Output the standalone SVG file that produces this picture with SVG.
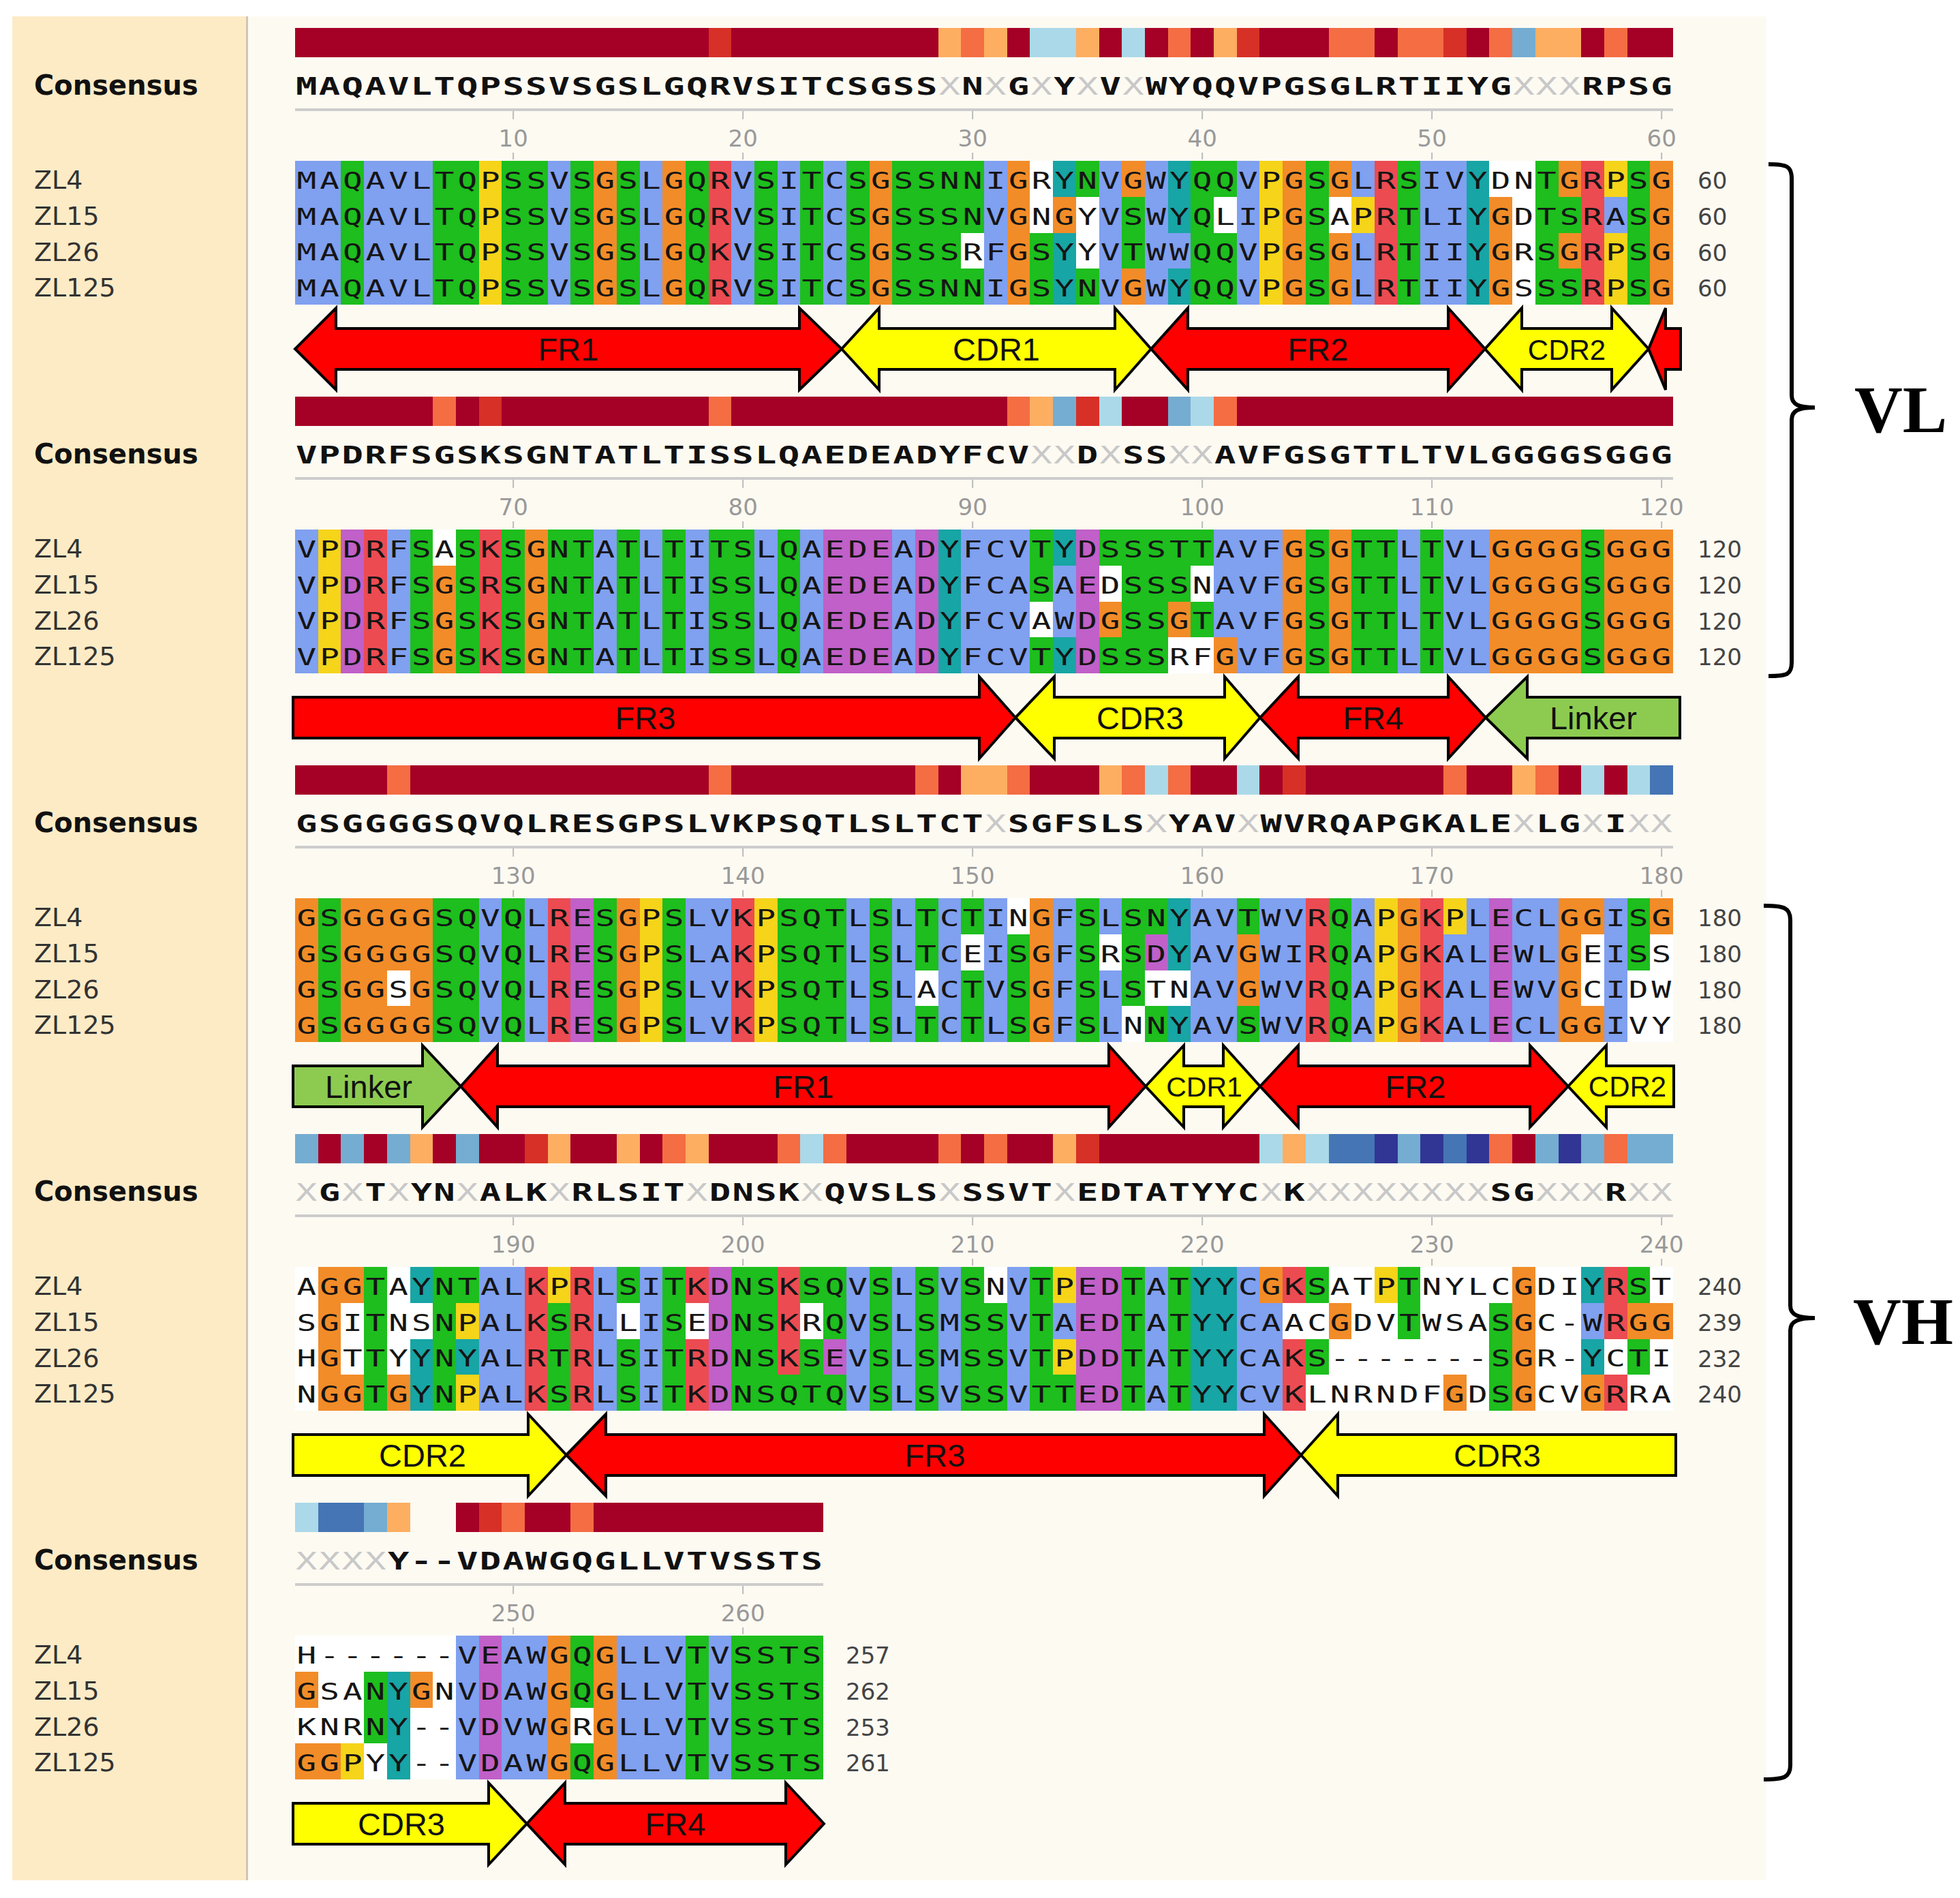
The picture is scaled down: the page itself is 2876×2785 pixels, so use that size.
<svg xmlns="http://www.w3.org/2000/svg" width="2876" height="2785" viewBox="0 0 2876 2785">
<style>
.b{fill:#80A0F0}.g{fill:#1DBE1D}.o{fill:#F28C28}.r{fill:#EC4B52}.m{fill:#C060C8}.c{fill:#17A5A5}.y{fill:#F5D41A}.w{fill:#FFFFFF}
.k1{fill:#A50026}.k2{fill:#D73027}.k3{fill:#F46D43}.k4{fill:#FDAE61}.k5{fill:#ABD9E9}.k6{fill:#74ADD1}.k7{fill:#4575B4}.k8{fill:#313695}
.s{font-family:"DejaVu Sans Mono",monospace;font-size:34px;letter-spacing:3.6px;fill:#151515}
.cs{font-family:"DejaVu Sans Mono",monospace;font-weight:bold;font-size:36px;letter-spacing:1.57px;fill:#111}
.xx{fill:#C8C8C8;font-weight:normal}
.lb{font-family:"DejaVu Sans",sans-serif;font-size:38px;fill:#333}
.cl{font-family:"DejaVu Sans",sans-serif;font-weight:bold;font-size:40px;fill:#111}
.rn{font-family:"DejaVu Sans",sans-serif;font-size:34px;fill:#444}
.rl{font-family:"DejaVu Sans",sans-serif;font-size:34px;fill:#999;text-anchor:middle}
.al{font-family:"Liberation Sans",Arial,sans-serif;font-size:47px;fill:#111;text-anchor:middle}
.ar,.ay,.ag{stroke:#000;stroke-width:4;stroke-linejoin:miter}
.ar{fill:#FF0000}.ay{fill:#FFFF00}.ag{fill:#8CCB50}
.rule{stroke:#CCCCCC;stroke-width:4;fill:none}
.tick{stroke:#BBBBBB;stroke-width:2;fill:none}
.brace{stroke:#000;stroke-width:6;fill:none}
.vt{font-family:"Liberation Serif","Times New Roman",serif;font-weight:bold;font-size:98px;fill:#000}
</style>
<rect width="2876" height="2785" fill="#FFFFFF"/>
<rect x="18" y="24" width="2574" height="2735" fill="#FDFAF2"/>
<rect x="18" y="24" width="344" height="2735" fill="#FDEBC6"/>
<rect x="361" y="24" width="3" height="2735" fill="#CFC6B4"/>

<g id="block1">
<g shape-rendering="crispEdges" transform="translate(433,41) scale(33.7,43)">
<rect class="k1" width="60" height="1"/>
<rect class="k2" x="18" width="1" height="1"/><rect class="k2" x="41" width="1" height="1"/><rect class="k2" x="50" width="1" height="1"/>
<rect class="k4" x="28" width="1" height="1"/><rect class="k4" x="30" width="1" height="1"/><rect class="k4" x="34" width="1" height="1"/><rect class="k4" x="40" width="1" height="1"/><rect class="k4" x="54" width="2" height="1"/>
<rect class="k3" x="29" width="1" height="1"/><rect class="k3" x="38" width="1" height="1"/><rect class="k3" x="45" width="2" height="1"/><rect class="k3" x="48" width="2" height="1"/><rect class="k3" x="52" width="1" height="1"/><rect class="k3" x="57" width="1" height="1"/>
<rect class="k5" x="32" width="2" height="1"/><rect class="k5" x="36" width="1" height="1"/>
<rect class="k6" x="53" width="1" height="1"/>
</g>
<text class="cl" x="50" y="139">Consensus</text>
<g transform="scale(1.45,1)"><text class="cs" x="299.4" y="139">MAQAVLTQPSSVSGSLGQRVSITCSGSS<tspan class="xx">X</tspan>N<tspan class="xx">X</tspan>G<tspan class="xx">X</tspan>Y<tspan class="xx">X</tspan>V<tspan class="xx">X</tspan>WYQQVPGSGLRTIIYG<tspan class="xx">XXX</tspan>RPSG</text></g>
<line class="rule" x1="433" y1="161" x2="2455" y2="161"/>
<path class="tick" d="M753.15,163v12M1090.15,163v12M1427.15,163v12M1764.15,163v12M2101.15,163v12M2438.15,163v12M753.15,224v10M1090.15,224v10M1427.15,224v10M1764.15,224v10M2101.15,224v10M2438.15,224v10"/>
<text class="rl" x="753.15" y="215">10</text><text class="rl" x="1090.15" y="215">20</text><text class="rl" x="1427.15" y="215">30</text><text class="rl" x="1764.15" y="215">40</text><text class="rl" x="2101.15" y="215">50</text><text class="rl" x="2438.15" y="215">60</text>
<g shape-rendering="crispEdges" transform="translate(433,236) scale(33.7,52.75)">
<rect class="w" width="60" height="4"/>
<rect class="b" x="0" width="2" height="4"/><rect class="g" x="2" width="1" height="4"/><rect class="b" x="3" width="3" height="4"/><rect class="g" x="6" width="2" height="4"/><rect class="y" x="8" width="1" height="4"/><rect class="g" x="9" width="2" height="4"/><rect class="b" x="11" width="1" height="4"/><rect class="g" x="12" width="1" height="4"/><rect class="o" x="13" width="1" height="4"/><rect class="g" x="14" width="1" height="4"/><rect class="b" x="15" width="1" height="4"/><rect class="o" x="16" width="1" height="4"/><rect class="g" x="17" width="1" height="4"/><rect class="r" x="18" width="1" height="4"/><rect class="b" x="19" width="1" height="4"/><rect class="g" x="20" width="1" height="4"/><rect class="b" x="21" width="1" height="4"/><rect class="g" x="22" width="1" height="4"/><rect class="b" x="23" width="1" height="4"/><rect class="g" x="24" width="1" height="4"/><rect class="o" x="25" width="1" height="4"/><rect class="g" x="26" width="4" height="4"/><rect class="b" x="30" width="1" height="4"/><rect class="o" x="31" width="1" height="4"/><rect class="g" x="32" width="1" height="4"/><rect class="c" x="33" width="1" height="4"/><rect class="g" x="34" width="1" height="4"/><rect class="b" x="35" width="1" height="4"/><rect class="o" x="36" width="1" height="4"/><rect class="b" x="37" width="1" height="4"/><rect class="c" x="38" width="1" height="4"/><rect class="g" x="39" width="2" height="4"/><rect class="b" x="41" width="1" height="4"/><rect class="y" x="42" width="1" height="4"/><rect class="o" x="43" width="1" height="4"/><rect class="g" x="44" width="1" height="4"/><rect class="o" x="45" width="1" height="4"/><rect class="b" x="46" width="1" height="4"/><rect class="r" x="47" width="1" height="4"/><rect class="g" x="48" width="1" height="4"/><rect class="b" x="49" width="2" height="4"/><rect class="c" x="51" width="1" height="4"/><rect class="o" x="52" width="1" height="4"/><rect class="g" x="54" width="1" height="4"/><rect class="o" x="55" width="1" height="4"/><rect class="r" x="56" width="1" height="4"/><rect class="y" x="57" width="1" height="4"/><rect class="g" x="58" width="1" height="4"/><rect class="o" x="59" width="1" height="4"/>
<rect class="w" x="29" y="2" width="1" height="1"/><rect class="w" x="32" y="0" width="1" height="2"/><rect class="o" x="33" y="1" width="1" height="1"/><rect class="w" x="34" y="1" width="1" height="2"/><rect class="g" x="36" y="1" width="1" height="2"/><rect class="b" x="38" y="2" width="1" height="1"/><rect class="w" x="40" y="1" width="1" height="1"/><rect class="w" x="45" y="1" width="1" height="1"/><rect class="y" x="46" y="1" width="1" height="1"/><rect class="w" x="52" y="0" width="1" height="1"/><rect class="g" x="55" y="1" width="1" height="1"/><rect class="g" x="55" y="3" width="1" height="1"/><rect class="b" x="57" y="1" width="1" height="1"/>
</g>
<text class="lb" x="50" y="277">ZL4</text><text class="lb" x="50" y="329.75">ZL15</text><text class="lb" x="50" y="382.5">ZL26</text><text class="lb" x="50" y="435.25">ZL125</text>
<g transform="scale(1.4,1)">
<text class="s" x="311.1" y="277">MAQAVLTQPSSVSGSLGQRVSITCSGSSNNIGRYNVGWYQQVPGSGLRSIVYDNTGRPSG</text>
<text class="s" x="311.1" y="329.75">MAQAVLTQPSSVSGSLGQRVSITCSGSSSNVGNGYVSWYQLIPGSAPRTLIYGDTSRASG</text>
<text class="s" x="311.1" y="382.5">MAQAVLTQPSSVSGSLGQKVSITCSGSSSRFGSYYVTWWQQVPGSGLRTIIYGRSGRPSG</text>
<text class="s" x="311.1" y="435.25">MAQAVLTQPSSVSGSLGQRVSITCSGSSNNIGSYNVGWYQQVPGSGLRTIIYGSSSRPSG</text>
</g>
<text class="rn" x="2491" y="277">60</text><text class="rn" x="2491" y="329.75">60</text><text class="rn" x="2491" y="382.5">60</text><text class="rn" x="2491" y="435.25">60</text>
</g>

<g id="block2" transform="translate(0,541)">
<g shape-rendering="crispEdges" transform="translate(433,41) scale(33.7,43)">
<rect class="k1" width="60" height="1"/>
<rect class="k3" x="6" width="1" height="1"/><rect class="k2" x="8" width="1" height="1"/><rect class="k3" x="18" width="1" height="1"/><rect class="k3" x="31" width="1" height="1"/><rect class="k4" x="32" width="1" height="1"/><rect class="k6" x="33" width="1" height="1"/><rect class="k2" x="34" width="1" height="1"/><rect class="k5" x="35" width="1" height="1"/><rect class="k6" x="38" width="1" height="1"/><rect class="k5" x="39" width="1" height="1"/><rect class="k3" x="40" width="1" height="1"/>
</g>
<text class="cl" x="50" y="139">Consensus</text>
<g transform="scale(1.45,1)"><text class="cs" x="299.4" y="139">VPDRFSGSKSGNTATLTISSLQAEDEADYFCV<tspan class="xx">XX</tspan>D<tspan class="xx">X</tspan>SS<tspan class="xx">XX</tspan>AVFGSGTTLTVLGGGGSGGG</text></g>
<line class="rule" x1="433" y1="161" x2="2455" y2="161"/>
<path class="tick" d="M753.15,163v12M1090.15,163v12M1427.15,163v12M1764.15,163v12M2101.15,163v12M2438.15,163v12M753.15,224v10M1090.15,224v10M1427.15,224v10M1764.15,224v10M2101.15,224v10M2438.15,224v10"/>
<text class="rl" x="753.15" y="215">70</text><text class="rl" x="1090.15" y="215">80</text><text class="rl" x="1427.15" y="215">90</text><text class="rl" x="1764.15" y="215">100</text><text class="rl" x="2101.15" y="215">110</text><text class="rl" x="2438.15" y="215">120</text>
<g shape-rendering="crispEdges" transform="translate(433,236) scale(33.7,52.75)">
<rect class="w" width="60" height="4"/>
<rect class="b" x="0" width="1" height="4"/><rect class="y" x="1" width="1" height="4"/><rect class="m" x="2" width="1" height="4"/><rect class="r" x="3" width="1" height="4"/><rect class="b" x="4" width="1" height="4"/><rect class="g" x="5" width="1" height="4"/><rect class="o" x="6" width="1" height="4"/><rect class="g" x="7" width="1" height="4"/><rect class="r" x="8" width="1" height="4"/><rect class="g" x="9" width="1" height="4"/><rect class="o" x="10" width="1" height="4"/><rect class="g" x="11" width="2" height="4"/><rect class="b" x="13" width="1" height="4"/><rect class="g" x="14" width="1" height="4"/><rect class="b" x="15" width="1" height="4"/><rect class="g" x="16" width="1" height="4"/><rect class="b" x="17" width="1" height="4"/><rect class="g" x="18" width="2" height="4"/><rect class="b" x="20" width="1" height="4"/><rect class="g" x="21" width="1" height="4"/><rect class="b" x="22" width="1" height="4"/><rect class="m" x="23" width="3" height="4"/><rect class="b" x="26" width="1" height="4"/><rect class="m" x="27" width="1" height="4"/><rect class="c" x="28" width="1" height="4"/><rect class="b" x="29" width="3" height="4"/><rect class="g" x="32" width="1" height="4"/><rect class="c" x="33" width="1" height="4"/><rect class="m" x="34" width="1" height="4"/><rect class="g" x="35" width="5" height="4"/><rect class="b" x="40" width="3" height="4"/><rect class="o" x="43" width="1" height="4"/><rect class="g" x="44" width="1" height="4"/><rect class="o" x="45" width="1" height="4"/><rect class="g" x="46" width="2" height="4"/><rect class="b" x="48" width="1" height="4"/><rect class="g" x="49" width="1" height="4"/><rect class="b" x="50" width="2" height="4"/><rect class="o" x="52" width="4" height="4"/><rect class="g" x="56" width="1" height="4"/><rect class="o" x="57" width="3" height="4"/>
<rect class="w" x="6" y="0" width="1" height="1"/><rect class="w" x="32" y="2" width="1" height="1"/><rect class="b" x="33" y="1" width="1" height="2"/><rect class="w" x="35" y="1" width="1" height="1"/><rect class="o" x="35" y="2" width="1" height="1"/><rect class="o" x="38" y="2" width="1" height="1"/><rect class="w" x="38" y="3" width="1" height="1"/><rect class="w" x="39" y="1" width="1" height="1"/><rect class="w" x="39" y="3" width="1" height="1"/><rect class="o" x="40" y="3" width="1" height="1"/>
</g>
<text class="lb" x="50" y="277">ZL4</text><text class="lb" x="50" y="329.75">ZL15</text><text class="lb" x="50" y="382.5">ZL26</text><text class="lb" x="50" y="435.25">ZL125</text>
<g transform="scale(1.4,1)">
<text class="s" x="311.1" y="277">VPDRFSASKSGNTATLTITSLQAEDEADYFCVTYDSSSTTAVFGSGTTLTVLGGGGSGGG</text>
<text class="s" x="311.1" y="329.75">VPDRFSGSRSGNTATLTISSLQAEDEADYFCASAEDSSSNAVFGSGTTLTVLGGGGSGGG</text>
<text class="s" x="311.1" y="382.5">VPDRFSGSKSGNTATLTISSLQAEDEADYFCVAWDGSSGTAVFGSGTTLTVLGGGGSGGG</text>
<text class="s" x="311.1" y="435.25">VPDRFSGSKSGNTATLTISSLQAEDEADYFCVTYDSSSRFGVFGSGTTLTVLGGGGSGGG</text>
</g>
<text class="rn" x="2491" y="277">120</text><text class="rn" x="2491" y="329.75">120</text><text class="rn" x="2491" y="382.5">120</text><text class="rn" x="2491" y="435.25">120</text>
</g>

<g id="block3" transform="translate(0,1082)">
<g shape-rendering="crispEdges" transform="translate(433,41) scale(33.7,43)">
<rect class="k1" width="60" height="1"/>
<rect class="k3" x="4" width="1" height="1"/><rect class="k3" x="18" width="1" height="1"/><rect class="k3" x="27" width="1" height="1"/><rect class="k4" x="29" width="2" height="1"/><rect class="k3" x="31" width="1" height="1"/><rect class="k4" x="35" width="1" height="1"/><rect class="k3" x="36" width="1" height="1"/><rect class="k5" x="37" width="1" height="1"/><rect class="k3" x="38" width="1" height="1"/><rect class="k5" x="41" width="1" height="1"/><rect class="k2" x="43" width="1" height="1"/><rect class="k3" x="50" width="1" height="1"/><rect class="k4" x="53" width="1" height="1"/><rect class="k3" x="54" width="1" height="1"/><rect class="k5" x="56" width="1" height="1"/><rect class="k5" x="58" width="1" height="1"/><rect class="k7" x="59" width="1" height="1"/>
</g>
<text class="cl" x="50" y="139">Consensus</text>
<g transform="scale(1.45,1)"><text class="cs" x="299.4" y="139">GSGGGGSQVQLRESGPSLVKPSQTLSLTCT<tspan class="xx">X</tspan>SGFSLS<tspan class="xx">X</tspan>YAV<tspan class="xx">X</tspan>WVRQAPGKALE<tspan class="xx">X</tspan>LG<tspan class="xx">X</tspan>I<tspan class="xx">XX</tspan></text></g>
<line class="rule" x1="433" y1="161" x2="2455" y2="161"/>
<path class="tick" d="M753.15,163v12M1090.15,163v12M1427.15,163v12M1764.15,163v12M2101.15,163v12M2438.15,163v12M753.15,224v10M1090.15,224v10M1427.15,224v10M1764.15,224v10M2101.15,224v10M2438.15,224v10"/>
<text class="rl" x="753.15" y="215">130</text><text class="rl" x="1090.15" y="215">140</text><text class="rl" x="1427.15" y="215">150</text><text class="rl" x="1764.15" y="215">160</text><text class="rl" x="2101.15" y="215">170</text><text class="rl" x="2438.15" y="215">180</text>
<g shape-rendering="crispEdges" transform="translate(433,236) scale(33.7,52.75)">
<rect class="w" width="60" height="4"/>
<rect class="o" x="0" width="1" height="4"/><rect class="g" x="1" width="1" height="4"/><rect class="o" x="2" width="4" height="4"/><rect class="g" x="6" width="2" height="4"/><rect class="b" x="8" width="1" height="4"/><rect class="g" x="9" width="1" height="4"/><rect class="b" x="10" width="1" height="4"/><rect class="r" x="11" width="1" height="4"/><rect class="m" x="12" width="1" height="4"/><rect class="g" x="13" width="1" height="4"/><rect class="o" x="14" width="1" height="4"/><rect class="y" x="15" width="1" height="4"/><rect class="g" x="16" width="1" height="4"/><rect class="b" x="17" width="2" height="4"/><rect class="r" x="19" width="1" height="4"/><rect class="y" x="20" width="1" height="4"/><rect class="g" x="21" width="3" height="4"/><rect class="b" x="24" width="1" height="4"/><rect class="g" x="25" width="1" height="4"/><rect class="b" x="26" width="1" height="4"/><rect class="g" x="27" width="1" height="4"/><rect class="b" x="28" width="1" height="4"/><rect class="g" x="29" width="1" height="4"/><rect class="b" x="30" width="1" height="4"/><rect class="g" x="31" width="1" height="4"/><rect class="o" x="32" width="1" height="4"/><rect class="b" x="33" width="1" height="4"/><rect class="g" x="34" width="1" height="4"/><rect class="b" x="35" width="1" height="4"/><rect class="g" x="36" width="2" height="4"/><rect class="c" x="38" width="1" height="4"/><rect class="b" x="39" width="2" height="4"/><rect class="g" x="41" width="1" height="4"/><rect class="b" x="42" width="2" height="4"/><rect class="r" x="44" width="1" height="4"/><rect class="g" x="45" width="1" height="4"/><rect class="b" x="46" width="1" height="4"/><rect class="y" x="47" width="1" height="4"/><rect class="o" x="48" width="1" height="4"/><rect class="r" x="49" width="1" height="4"/><rect class="b" x="50" width="2" height="4"/><rect class="m" x="52" width="1" height="4"/><rect class="b" x="53" width="2" height="4"/><rect class="o" x="55" width="2" height="4"/><rect class="b" x="57" width="1" height="4"/><rect class="g" x="58" width="1" height="4"/>
<rect class="w" x="4" y="2" width="1" height="1"/><rect class="w" x="27" y="2" width="1" height="1"/><rect class="w" x="29" y="1" width="1" height="1"/><rect class="w" x="31" y="0" width="1" height="1"/><rect class="w" x="35" y="1" width="1" height="1"/><rect class="w" x="36" y="3" width="1" height="1"/><rect class="m" x="37" y="1" width="1" height="1"/><rect class="w" x="37" y="2" width="1" height="1"/><rect class="w" x="38" y="2" width="1" height="1"/><rect class="o" x="41" y="1" width="1" height="2"/><rect class="y" x="50" y="0" width="1" height="1"/><rect class="w" x="56" y="1" width="1" height="2"/><rect class="w" x="58" y="2" width="1" height="2"/><rect class="o" x="59" y="0" width="1" height="1"/>
</g>
<text class="lb" x="50" y="277">ZL4</text><text class="lb" x="50" y="329.75">ZL15</text><text class="lb" x="50" y="382.5">ZL26</text><text class="lb" x="50" y="435.25">ZL125</text>
<g transform="scale(1.4,1)">
<text class="s" x="311.1" y="277">GSGGGGSQVQLRESGPSLVKPSQTLSLTCTINGFSLSNYAVTWVRQAPGKPLECLGGISG</text>
<text class="s" x="311.1" y="329.75">GSGGGGSQVQLRESGPSLAKPSQTLSLTCEISGFSRSDYAVGWIRQAPGKALEWLGEISS</text>
<text class="s" x="311.1" y="382.5">GSGGSGSQVQLRESGPSLVKPSQTLSLACTVSGFSLSTNAVGWVRQAPGKALEWVGCIDW</text>
<text class="s" x="311.1" y="435.25">GSGGGGSQVQLRESGPSLVKPSQTLSLTCTLSGFSLNNYAVSWVRQAPGKALECLGGIVY</text>
</g>
<text class="rn" x="2491" y="277">180</text><text class="rn" x="2491" y="329.75">180</text><text class="rn" x="2491" y="382.5">180</text><text class="rn" x="2491" y="435.25">180</text>
</g>

<g id="block4" transform="translate(0,1623)">
<g shape-rendering="crispEdges" transform="translate(433,41) scale(33.7,43)">
<rect class="k1" width="60" height="1"/>
<rect class="k6" x="0" width="1" height="1"/><rect class="k6" x="2" width="1" height="1"/><rect class="k6" x="4" width="1" height="1"/><rect class="k4" x="5" width="1" height="1"/><rect class="k6" x="7" width="1" height="1"/><rect class="k2" x="10" width="1" height="1"/><rect class="k4" x="11" width="1" height="1"/><rect class="k4" x="14" width="1" height="1"/><rect class="k3" x="16" width="1" height="1"/><rect class="k4" x="17" width="1" height="1"/><rect class="k3" x="21" width="1" height="1"/><rect class="k5" x="22" width="1" height="1"/><rect class="k3" x="23" width="1" height="1"/><rect class="k3" x="28" width="1" height="1"/><rect class="k3" x="30" width="1" height="1"/><rect class="k4" x="33" width="1" height="1"/><rect class="k2" x="34" width="1" height="1"/><rect class="k5" x="42" width="1" height="1"/><rect class="k4" x="43" width="1" height="1"/><rect class="k5" x="44" width="1" height="1"/><rect class="k7" x="45" width="2" height="1"/><rect class="k8" x="47" width="1" height="1"/><rect class="k6" x="48" width="1" height="1"/><rect class="k8" x="49" width="1" height="1"/><rect class="k7" x="50" width="1" height="1"/><rect class="k8" x="51" width="1" height="1"/><rect class="k3" x="52" width="1" height="1"/><rect class="k6" x="54" width="1" height="1"/><rect class="k8" x="55" width="1" height="1"/><rect class="k6" x="56" width="1" height="1"/><rect class="k3" x="57" width="1" height="1"/><rect class="k6" x="58" width="2" height="1"/>
</g>
<text class="cl" x="50" y="139">Consensus</text>
<g transform="scale(1.45,1)"><text class="cs" x="299.4" y="139"><tspan class="xx">X</tspan>G<tspan class="xx">X</tspan>T<tspan class="xx">X</tspan>YN<tspan class="xx">X</tspan>ALK<tspan class="xx">X</tspan>RLSIT<tspan class="xx">X</tspan>DNSK<tspan class="xx">X</tspan>QVSLS<tspan class="xx">X</tspan>SSVT<tspan class="xx">X</tspan>EDTATYYC<tspan class="xx">X</tspan>K<tspan class="xx">XXXXXXXX</tspan>SG<tspan class="xx">XXX</tspan>R<tspan class="xx">XX</tspan></text></g>
<line class="rule" x1="433" y1="161" x2="2455" y2="161"/>
<path class="tick" d="M753.15,163v12M1090.15,163v12M1427.15,163v12M1764.15,163v12M2101.15,163v12M2438.15,163v12M753.15,224v10M1090.15,224v10M1427.15,224v10M1764.15,224v10M2101.15,224v10M2438.15,224v10"/>
<text class="rl" x="753.15" y="215">190</text><text class="rl" x="1090.15" y="215">200</text><text class="rl" x="1427.15" y="215">210</text><text class="rl" x="1764.15" y="215">220</text><text class="rl" x="2101.15" y="215">230</text><text class="rl" x="2438.15" y="215">240</text>
<g shape-rendering="crispEdges" transform="translate(433,236) scale(33.7,52.75)">
<rect class="w" width="60" height="4"/>
<rect class="o" x="1" width="2" height="4"/><rect class="g" x="3" width="1" height="4"/><rect class="c" x="5" width="1" height="4"/><rect class="g" x="6" width="1" height="4"/><rect class="y" x="7" width="1" height="4"/><rect class="b" x="8" width="2" height="4"/><rect class="r" x="10" width="1" height="4"/><rect class="g" x="11" width="1" height="4"/><rect class="r" x="12" width="1" height="4"/><rect class="b" x="13" width="1" height="4"/><rect class="g" x="14" width="1" height="4"/><rect class="b" x="15" width="1" height="4"/><rect class="g" x="16" width="1" height="4"/><rect class="r" x="17" width="1" height="4"/><rect class="m" x="18" width="1" height="4"/><rect class="g" x="19" width="2" height="4"/><rect class="r" x="21" width="1" height="4"/><rect class="g" x="22" width="2" height="4"/><rect class="b" x="24" width="1" height="4"/><rect class="g" x="25" width="1" height="4"/><rect class="b" x="26" width="1" height="4"/><rect class="g" x="27" width="1" height="4"/><rect class="b" x="28" width="1" height="4"/><rect class="g" x="29" width="2" height="4"/><rect class="b" x="31" width="1" height="4"/><rect class="g" x="32" width="1" height="4"/><rect class="y" x="33" width="1" height="4"/><rect class="m" x="34" width="2" height="4"/><rect class="g" x="36" width="1" height="4"/><rect class="b" x="37" width="1" height="4"/><rect class="g" x="38" width="1" height="4"/><rect class="c" x="39" width="2" height="4"/><rect class="b" x="41" width="2" height="4"/><rect class="r" x="43" width="1" height="4"/><rect class="g" x="52" width="1" height="4"/><rect class="o" x="53" width="1" height="4"/><rect class="c" x="56" width="1" height="4"/><rect class="r" x="57" width="1" height="4"/><rect class="g" x="58" width="1" height="4"/>
<rect class="w" x="2" y="1" width="1" height="2"/><rect class="o" x="4" y="3" width="1" height="1"/><rect class="w" x="5" y="1" width="1" height="1"/><rect class="g" x="7" y="0" width="1" height="1"/><rect class="c" x="7" y="2" width="1" height="1"/><rect class="y" x="11" y="0" width="1" height="1"/><rect class="w" x="14" y="1" width="1" height="1"/><rect class="w" x="17" y="1" width="1" height="1"/><rect class="g" x="21" y="3" width="1" height="1"/><rect class="w" x="22" y="1" width="1" height="1"/><rect class="m" x="23" y="2" width="1" height="1"/><rect class="w" x="30" y="0" width="1" height="1"/><rect class="b" x="33" y="1" width="1" height="1"/><rect class="g" x="33" y="3" width="1" height="1"/><rect class="o" x="42" y="0" width="1" height="1"/><rect class="w" x="43" y="1" width="1" height="1"/><rect class="g" x="44" y="0" width="1" height="1"/><rect class="g" x="44" y="2" width="1" height="1"/><rect class="o" x="45" y="1" width="1" height="1"/><rect class="y" x="47" y="0" width="1" height="1"/><rect class="g" x="48" y="0" width="1" height="2"/><rect class="o" x="50" y="3" width="1" height="1"/><rect class="w" x="52" y="0" width="1" height="1"/><rect class="b" x="56" y="1" width="1" height="1"/><rect class="o" x="56" y="3" width="1" height="1"/><rect class="w" x="57" y="2" width="1" height="1"/><rect class="o" x="58" y="1" width="1" height="1"/><rect class="w" x="58" y="3" width="1" height="1"/><rect class="o" x="59" y="1" width="1" height="1"/>
</g>
<text class="lb" x="50" y="277">ZL4</text><text class="lb" x="50" y="329.75">ZL15</text><text class="lb" x="50" y="382.5">ZL26</text><text class="lb" x="50" y="435.25">ZL125</text>
<g transform="scale(1.4,1)">
<text class="s" x="311.1" y="277">AGGTAYNTALKPRLSITKDNSKSQVSLSVSNVTPEDTATYYCGKSATPTNYLCGDIYRST</text>
<text class="s" x="311.1" y="329.75">SGITNSNPALKSRLLISEDNSKRQVSLSMSSVTAEDTATYYCAACGDVTWSASGC-WRGG</text>
<text class="s" x="311.1" y="382.5">HGTTYYNYALRTRLSITRDNSKSEVSLSMSSVTPDDTATYYCAKS-------SGR-YCTI</text>
<text class="s" x="311.1" y="435.25">NGGTGYNPALKSRLSITKDNSQTQVSLSVSSVTTEDTATYYCVKLNRNDFGDSGCVGRRA</text>
</g>
<text class="rn" x="2491" y="277">240</text><text class="rn" x="2491" y="329.75">239</text><text class="rn" x="2491" y="382.5">232</text><text class="rn" x="2491" y="435.25">240</text>
</g>

<g id="block5" transform="translate(0,2164)">
<g shape-rendering="crispEdges" transform="translate(433,41) scale(33.7,43)">
<rect class="k5" x="0" width="1" height="1"/><rect class="k7" x="1" width="2" height="1"/><rect class="k6" x="3" width="1" height="1"/><rect class="k4" x="4" width="1" height="1"/><rect class="k1" x="7" width="16" height="1"/><rect class="k2" x="8" width="1" height="1"/><rect class="k3" x="9" width="1" height="1"/><rect class="k3" x="12" width="1" height="1"/>
</g>
<text class="cl" x="50" y="139">Consensus</text>
<g transform="scale(1.45,1)"><text class="cs" x="299.4" y="139"><tspan class="xx">XXXX</tspan>Y--VDAWGQGLLVTVSSTS</text></g>
<line class="rule" x1="433" y1="161" x2="1208" y2="161"/>
<path class="tick" d="M753.15,163v12M1090.15,163v12M753.15,224v10M1090.15,224v10"/>
<text class="rl" x="753.15" y="215">250</text><text class="rl" x="1090.15" y="215">260</text>
<g shape-rendering="crispEdges" transform="translate(433,236) scale(33.7,52.75)">
<rect class="w" width="23" height="4"/>
<rect class="b" x="7" width="1" height="4"/><rect class="m" x="8" width="1" height="4"/><rect class="b" x="9" width="2" height="4"/><rect class="o" x="11" width="1" height="4"/><rect class="g" x="12" width="1" height="4"/><rect class="o" x="13" width="1" height="4"/><rect class="b" x="14" width="3" height="4"/><rect class="g" x="17" width="1" height="4"/><rect class="b" x="18" width="1" height="4"/><rect class="g" x="19" width="4" height="4"/>
<rect class="o" x="0" y="1" width="1" height="1"/><rect class="o" x="0" y="3" width="1" height="1"/><rect class="o" x="1" y="3" width="1" height="1"/><rect class="y" x="2" y="3" width="1" height="1"/><rect class="g" x="3" y="1" width="1" height="2"/><rect class="c" x="4" y="1" width="1" height="3"/><rect class="o" x="5" y="1" width="1" height="1"/><rect class="w" x="12" y="2" width="1" height="1"/>
</g>
<text class="lb" x="50" y="277">ZL4</text><text class="lb" x="50" y="329.75">ZL15</text><text class="lb" x="50" y="382.5">ZL26</text><text class="lb" x="50" y="435.25">ZL125</text>
<g transform="scale(1.4,1)">
<text class="s" x="311.1" y="277">H------VEAWGQGLLVTVSSTS</text>
<text class="s" x="311.1" y="329.75">GSANYGNVDAWGQGLLVTVSSTS</text>
<text class="s" x="311.1" y="382.5">KNRNY--VDVWGRGLLVTVSSTS</text>
<text class="s" x="311.1" y="435.25">GGPYY--VDAWGQGLLVTVSSTS</text>
</g>
<text class="rn" x="1241" y="277">257</text><text class="rn" x="1241" y="329.75">262</text><text class="rn" x="1241" y="382.5">253</text><text class="rn" x="1241" y="435.25">261</text>
</g>

<g id="regions">
<g id="regions1">
<polygon class="ar" points="433,512 493,452 493,482 1173,482 1173,452 1235,512 1173,572 1173,542 493,542 493,572"/>
<polygon class="ay" points="1235,512 1290,452 1290,482 1636,482 1636,452 1689,512 1636,572 1636,542 1290,542 1290,572"/>
<polygon class="ar" points="1689,512 1743,452 1743,482 2125,482 2125,452 2179,512 2125,572 2125,542 1743,542 1743,572"/>
<polygon class="ay" points="2179,512 2233,452 2233,482 2365,482 2365,452 2419,512 2365,572 2365,542 2233,542 2233,572"/>
<polygon class="ar" points="2419,512 2444,452 2444,482 2466,482 2466,542 2444,542 2444,572"/>
<text class="al" x="834" y="529">FR1</text><text class="al" x="1462" y="529">CDR1</text><text class="al" x="1934" y="529">FR2</text><text class="al" x="2299" y="528" style="font-size:42px">CDR2</text>
</g>
<g id="regions2" transform="translate(0,541)">
<polygon class="ar" points="430,482 1437,482 1437,452 1490,512 1437,572 1437,542 430,542"/>
<polygon class="ay" points="1490,512 1547,452 1547,482 1797,482 1797,452 1849,512 1797,572 1797,542 1547,542 1547,572"/>
<polygon class="ar" points="1849,512 1905,452 1905,482 2125,482 2125,452 2180,512 2125,572 2125,542 1905,542 1905,572"/>
<polygon class="ag" points="2180,512 2241,452 2241,482 2465,482 2465,542 2241,542 2241,572"/>
<text class="al" x="947" y="529">FR3</text><text class="al" x="1673" y="529">CDR3</text><text class="al" x="2015" y="529">FR4</text><text class="al" x="2338" y="529">Linker</text>
</g>
<g id="regions3" transform="translate(0,1082)">
<polygon class="ag" points="430,482 620,482 620,452 676,512 620,572 620,542 430,542"/>
<polygon class="ar" points="676,512 730,452 730,482 1627,482 1627,452 1681,512 1627,572 1627,542 730,542 730,572"/>
<polygon class="ay" points="1681,512 1737,452 1737,482 1795,482 1795,452 1849,512 1795,572 1795,542 1737,542 1737,572"/>
<polygon class="ar" points="1849,512 1905,452 1905,482 2245,482 2245,452 2301,512 2245,572 2245,542 1905,542 1905,572"/>
<polygon class="ay" points="2301,512 2357,452 2357,482 2456,482 2456,542 2357,542 2357,572"/>
<text class="al" x="541" y="529">Linker</text><text class="al" x="1179" y="529">FR1</text><text class="al" x="1767" y="527" style="font-size:41px">CDR1</text><text class="al" x="2077" y="529">FR2</text><text class="al" x="2388" y="527" style="font-size:42px">CDR2</text>
</g>
<g id="regions4" transform="translate(0,1623)">
<polygon class="ay" points="430,482 775,482 775,452 831,512 775,572 775,542 430,542"/>
<polygon class="ar" points="831,512 889,452 889,482 1855,482 1855,452 1909,512 1855,572 1855,542 889,542 889,572"/>
<polygon class="ay" points="1909,512 1963,452 1963,482 2459,482 2459,542 1963,542 1963,572"/>
<text class="al" x="620" y="529">CDR2</text><text class="al" x="1372" y="529">FR3</text><text class="al" x="2197" y="529">CDR3</text>
</g>
<g id="regions5" transform="translate(0,2164)">
<polygon class="ay" points="430,482 717,482 717,452 773,512 717,572 717,542 430,542"/>
<polygon class="ar" points="773,512 829,452 829,482 1153,482 1153,452 1209,512 1153,572 1153,542 829,542 829,572"/>
<text class="al" x="589" y="529">CDR3</text><text class="al" x="991" y="529">FR4</text>
</g>
</g>

<g id="connectors">
<path id="brace-VL" class="brace" d="M2595,241 C2622,241 2629,244 2629,262 L2629,580 C2629,594 2640,598 2663,598 C2640,598 2629,602 2629,616 L2629,972 C2629,990 2622,992 2595,992"/>
<path id="brace-VH" class="brace" d="M2588,1329 C2618,1329 2627,1332 2627,1350 L2627,1916 C2627,1930 2640,1934 2663,1934 C2640,1934 2627,1938 2627,1952 L2627,2590 C2627,2608 2618,2611 2588,2611"/>
</g>
<g id="label-VL"><text class="vt" x="2721" y="634">VL</text></g>
<g id="label-VH"><text class="vt" x="2719" y="1972">VH</text></g>
</svg>
